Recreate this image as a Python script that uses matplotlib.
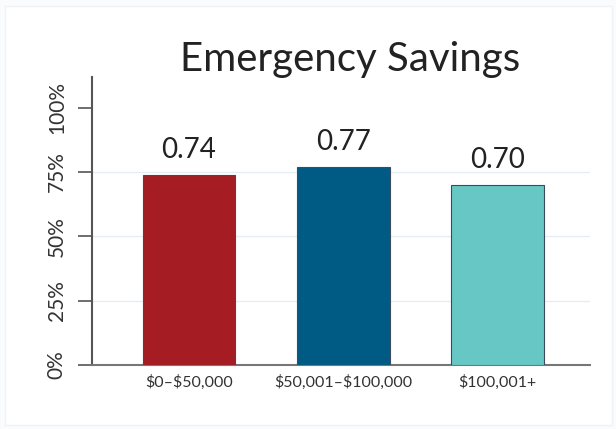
# Emergency Savings by income bracket
import matplotlib.pyplot as plt
from matplotlib.patches import Rectangle

categories = ["\\$0\u2013\\$50,000", "\\$50,001\u2013\\$100,000", "\\$100,001+"]
values = [0.74, 0.77, 0.70]
colors = ["#A51D22", "#005B84", "#66C7C5"]
yticks = [0, 0.25, 0.5, 0.75, 1.0]
ytick_labels = ["0%", "25%", "50%", "75%", "100%"]

plt.rcParams["font.family"] = ["Lato", "DejaVu Sans"]

fig = plt.figure(figsize=(6.16, 4.29), dpi=100)
fig.patch.set_facecolor("#fafbfc")
fig.add_artist(Rectangle((0.008, 0.01), 0.985, 0.975, transform=fig.transFigure,
                         facecolor="white", edgecolor="#f0f2f4", lw=1.0, zorder=-1))

ax = fig.add_axes([0.149, 0.149, 0.809, 0.672])
ax.set_facecolor("white")
x = list(range(len(categories)))
ax.bar(x, values, width=0.6, color=colors, edgecolor="#3a4a60", linewidth=0.8, zorder=3)

for xi, v in zip(x, values):
    ax.text(xi, v + 0.045, f"{v:.2f}", ha="center", va="bottom", fontsize=20, color="#222222")

ax.set_xlim(-0.63, 2.6)
ax.set_ylim(0, 1.12)
ax.set_xticks(x)
ax.set_xticklabels(categories, fontsize=11.5, color="#333333")
ax.set_yticks(yticks)
ax.set_yticklabels(ytick_labels, rotation=90, va="center", fontsize=15, color="#333333")
ax.tick_params(axis="y", length=10, width=1.2, color="#555555", pad=8)
ax.tick_params(axis="x", length=0, pad=7)

for y in yticks[1:4]:
    ax.axhline(y, color="#e3eef2", lw=1, zorder=0)

for s in ["top", "right"]:
    ax.spines[s].set_visible(False)
ax.spines["left"].set_color("#555555")
ax.spines["left"].set_linewidth(1.5)
ax.spines["bottom"].set_color("#777777")
ax.spines["bottom"].set_linewidth(1.5)

fig.text(0.568, 0.862, "Emergency Savings", ha="center", va="center", fontsize=29, color="#222222")

fig.savefig("out.png", dpi=100)
